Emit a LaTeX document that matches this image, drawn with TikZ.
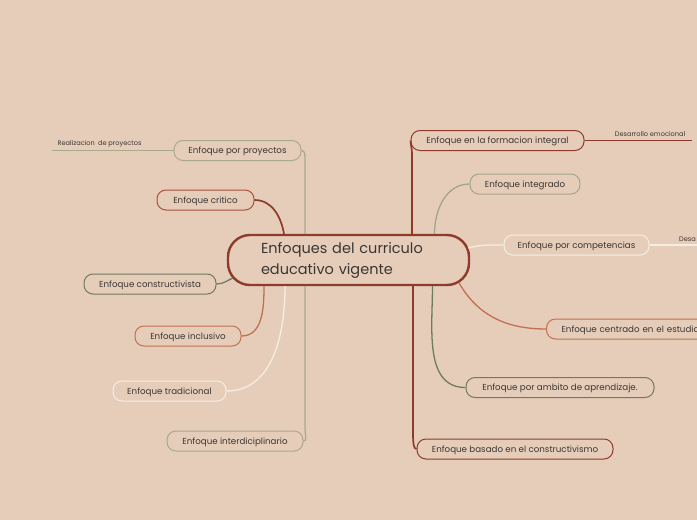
\documentclass[tikz,border=0pt]{standalone}
\usepackage{fontspec}
\setmainfont{Poppins}
\definecolor{bg}{HTML}{E6CDBA}
\definecolor{darkred}{HTML}{8E3B2B}
\definecolor{critred}{HTML}{A9503D}
\definecolor{sage}{HTML}{A9A98C}
\definecolor{sagegreen}{HTML}{A3A686}
\definecolor{green}{HTML}{6E7B5F}
\definecolor{terra}{HTML}{C2704F}
\definecolor{cream}{HTML}{F5EDE2}
\definecolor{txt}{HTML}{3B3633}
\begin{document}
\begin{tikzpicture}[x=1pt,y=1pt,
  topic/.style={draw, fill=bg, rounded corners=9pt, minimum height=20pt, inner sep=0pt,
    text height=8.5pt, text depth=2pt,
    line width=1pt, text=txt, font=\fontsize{8.7}{9}\selectfont},
  central/.style={draw=darkred, fill=bg, line width=2.4pt, rounded corners=22pt,
    minimum width=241pt, minimum height=50pt, text width=175pt, align=left, inner xsep=0pt,
    text=txt, font=\fontsize{14.5}{19}\selectfont},
  sub/.style={font=\fontsize{6.6}{7}\selectfont, text=txt, inner sep=1pt},
  conn/.style={line width=1.3pt},
  thick conn/.style={line width=1.7pt}]
\fill[bg] (0,0) rectangle (697,-520);
\useasboundingbox (0,0) rectangle (697,-520);
\clip (0,0) rectangle (697,-520);

% central
\node[central] (c) at (348.5,-260) {\vspace{2pt}Enfoques del curriculo\\educativo vigente};

% left topics
\node[topic, draw=sage, minimum width=127pt] (proy) at (237.5,-150.5) {Enfoque por proyectos};
\node[topic, draw=critred, minimum width=97pt] (crit) at (205.5,-200) {Enfoque critico};
\node[topic, draw=green, minimum width=132pt] (constr) at (150,-284) {Enfoque constructivista};
\node[topic, draw=terra, minimum width=106pt] (incl) at (188,-336) {Enfoque inclusivo};
\node[topic, draw=cream, minimum width=113pt] (trad) at (169.5,-391) {Enfoque tradicional};
\node[topic, draw=sage, minimum width=136pt] (inter) at (235,-441) {Enfoque interdiciplinario};

% right topics
\node[topic, draw=darkred, minimum width=173pt] (form) at (497.5,-140.5) {Enfoque en la formacion integral};
\node[topic, draw=sagegreen, minimum width=110pt] (integ) at (525,-184) {Enfoque integrado};
\node[topic, draw=cream, minimum width=145pt] (comp) at (576.5,-245) {Enfoque por competencias};
\node[topic, draw=terra, minimum width=200pt, anchor=west, text width=185pt, align=left, inner xsep=15pt] (centr) at (546,-329) {Enfoque centrado en el estudiante};
\node[topic, draw=green, minimum width=188pt] (amb) at (560,-387.5) {Enfoque por ambito de aprendizaje.};
\node[topic, draw=darkred, minimum width=196pt] (bas) at (515,-449) {Enfoque basado en el constructivismo};

% sub topics
\node[sub] (real) at (99.5,-144) {Realizacion\hspace{1.5pt} de proyectos};
\coordinate (realend) at (52,-150.5);
\node[sub] (desem) at (650,-134) {Desarrollo emocional};
\coordinate (desemend) at (692,-140.5);
\node[sub, anchor=west] (desa) at (678,-239) {Desa};
\coordinate (desaend) at (697,-245);

% connectors left
\draw[conn, sage] ([xshift=-43.5pt]c.north) -- ++(0,69) .. controls +(0,10) and +(4,0) .. (proy.east);
\draw[conn, sage] ([xshift=-43.5pt]c.south) -- ++(0,-140) .. controls +(0,-10) and +(4,0) .. (inter.east);
\draw[thick conn, darkred] (crit.east) to[out=0,in=100] ([xshift=-64.5pt]c.north);
\draw[conn, green] (constr.east) to[out=0,in=205] ([shift={(6,-18)}]c.west);
\draw[conn, terra] (incl.east) to[out=0,in=270] ([xshift=-84.5pt]c.south);
\draw[conn, cream] (trad.east) to[out=0,in=270] ([xshift=-63.5pt]c.south);
\draw[conn, sage] (proy.west) -- (realend);

% connectors right
\draw[thick conn, darkred] ([xshift=63.5pt]c.north) -- ++(0,80) .. controls +(0,6) and +(0,-4) .. (form.west);
\draw[thick conn, darkred] ([xshift=64.5pt]c.south) -- ++(0,-145) .. controls +(0,-12) and +(-3,0) .. (bas.west);
\draw[conn, sagegreen] ([xshift=86pt]c.north) to[out=90,in=180] (integ.west);
\draw[conn, cream] ([shift={(-2,12)}]c.east) to[out=15,in=180] (comp.west);
\draw[conn, terra] ([shift={(-11,3)}]c.south east) to[out=-60,in=180] (centr.west);
\draw[conn, green] ([xshift=84pt]c.south) to[out=270,in=180] (amb.west);
\draw[conn, darkred] (form.east) -- (desemend);
\draw[conn, cream] (comp.east) -- (desaend);
\end{tikzpicture}
\end{document}
